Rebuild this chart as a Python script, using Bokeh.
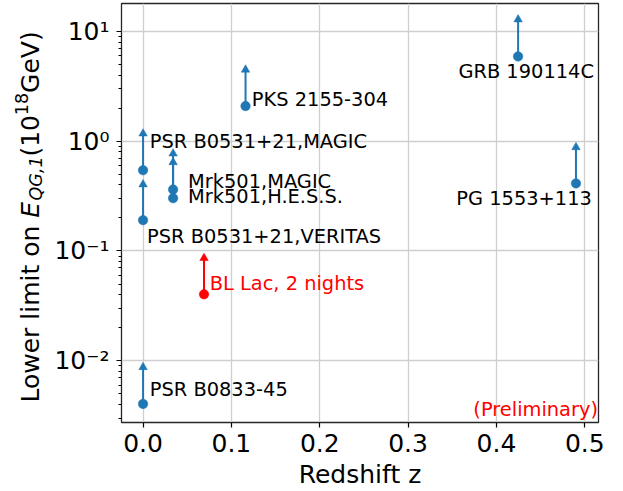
import math
from bokeh.plotting import figure
from bokeh.layouts import row
from bokeh.models import (ColumnDataSource, Range1d, FixedTicker, PrintfTickFormatter, Label)
from bokeh.core.properties import value
from bokeh.embed import file_html
from bokeh.resources import INLINE

# ---- data ----
names = ["PSR B0833-45", "PSR B0531+21,MAGIC", "PSR B0531+21,VERITAS",
         "Mrk501,MAGIC", "Mrk501,H.E.S.S.", "PKS 2155-304",
         "GRB 190114C", "PG 1553+113"]
redshift = [0.0, 0.0, 0.0, 0.034, 0.034, 0.116, 0.4245, 0.49]
lower_limit = [0.00404, 0.545, 0.191, 0.363, 0.303, 2.095, 5.93, 0.413]
arrow_tip = [0.00873, 1.175, 0.404, 0.773, 0.644, 4.49, 12.9, 0.882]

bllac_name = ["BL Lac, 2 nights"]
bllac_z = [0.069]
bllac_limit = [0.0403]
bllac_tip = [0.0862]

x_ticks = [0.0, 0.1, 0.2, 0.3, 0.4, 0.5]
y_ticks = [0.01, 0.1, 1.0, 10.0]
y_tick_labels = ["10\u207b\u00b2", "10\u207b\u00b9", "10\u2070", "10\u00b9"]
y_minor = [m * 10.0 ** e for e in (-3, -2, -1, 0, 1) for m in range(2, 10)]

# ---- label placement (screen offsets from each point, px; +dy = down) ----
BASE_FIX = -7
lab_dx = [6.7, 6.7, 4.0, 15.0, 15.0, 6.3, -59.7, -119.6]
lab_dy = [d + BASE_FIX for d in [-7.3, -21.7, 23.3, -1.0, 5.3, 0.3, 22.3, 22.4]]
bl_dx = [5.7]
bl_dy = [d + BASE_FIX for d in [-3.3]]

BLUE = "#1f77b4"
RED = "#ff0000"
FONT = "DejaVu Sans"
H = 491
LEFT_W = 48
TOP, BOTTOM = 3, 68

p = figure(width=567, height=H, output_backend="svg", toolbar_location=None,
           y_axis_type="log",
           x_range=Range1d(-0.0244, 0.5155), y_range=Range1d(0.002734, 18.02),
           min_border_left=121 - LEFT_W, min_border_right=17, min_border_top=TOP,
           min_border_bottom=BOTTOM)

src = ColumnDataSource(dict(x=redshift, y=lower_limit, tip=arrow_tip, name=names,
                            dx=lab_dx, dy=lab_dy))
bsrc = ColumnDataSource(dict(x=bllac_z, y=bllac_limit, tip=bllac_tip, name=bllac_name,
                             dx=bl_dx, dy=bl_dy))

for s, col, tcol in ((src, BLUE, "black"), (bsrc, RED, RED)):
    p.segment(x0="x", y0="y", x1="x", y1="tip", source=s, line_color=col, line_width=2)
    p.scatter(x="x", y="tip", source=s, marker="triangle", size=8.5,
              fill_color=col, line_color=col, line_width=0.5)
    p.scatter(x="x", y="y", source=s, marker="circle", size=9.5,
              fill_color=col, line_color=col, line_width=0.5)
    p.text(x="x", y="y", text="name", source=s, x_offset="dx", y_offset="dy",
           text_font=value(FONT), text_font_size="19.4px", text_color=tcol,
           text_align="left", text_baseline="alphabetic")

p.add_layout(Label(x=476.5, y=6.3 - BASE_FIX, x_units="screen", y_units="screen",
                   text="(Preliminary)", text_font=FONT, text_font_size="19.4px",
                   text_color=RED, text_align="right", text_baseline="alphabetic"))

# ---- axes ----
p.xaxis.ticker = FixedTicker(ticks=x_ticks, minor_ticks=[])
p.xaxis.formatter = PrintfTickFormatter(format="%.1f")
p.yaxis.ticker = FixedTicker(ticks=y_ticks, minor_ticks=y_minor)
p.yaxis.major_label_overrides = {t: s for t, s in zip(y_ticks, y_tick_labels)}
for ax in (p.xaxis, p.yaxis):
    ax.major_label_text_font = FONT
    ax.major_label_text_font_size = "25px"
    ax.major_label_text_color = "black"
    ax.axis_line_color = None
    ax.major_tick_line_color = "black"
    ax.minor_tick_line_color = "black"
    ax.major_tick_out = 5
    ax.major_tick_in = 0
    ax.minor_tick_out = 3
    ax.minor_tick_in = 0
    ax.major_tick_line_width = 1.2
    ax.minor_tick_line_width = 1
    ax.axis_label_text_font = FONT
    ax.axis_label_text_font_style = "normal"
    ax.axis_label_text_font_size = "25px"
    ax.axis_label_text_color = "black"
p.xaxis.axis_label = "Redshift z"
p.xaxis.major_label_standoff = 6
p.xaxis.axis_label_standoff = 5
p.yaxis.major_label_standoff = 7

p.outline_line_color = "#262626"
p.outline_line_width = 1.3
p.xgrid.grid_line_color = "#cfcfcf"
p.ygrid.grid_line_color = "#cfcfcf"
p.xgrid.grid_line_width = 1.3
p.ygrid.grid_line_width = 1.3

# ---- y-axis title: a narrow figure holding the rotated label pieces ----
# its frame is aligned with the main frame (page y 3..423); data y = 491 - page y
ly = figure(width=LEFT_W, height=H, output_backend="svg", toolbar_location=None,
            x_range=Range1d(0, LEFT_W), y_range=Range1d(BOTTOM, H - TOP),
            x_axis_location=None, y_axis_location=None, min_border=0,
            outline_line_color=None)
ly.grid.visible = False
# (text, baseline x, start y from bottom, font size, style)
ylab = [
    ("Lower limit on", 37, 88, "25px", "normal"),
    ("E", 37, 273.3, "25px", "italic"),
    ("QG,1", 42, 290.6, "17.5px", "italic"),
    ("(10", 37, 334.6, "25px", "normal"),
    ("18", 28, 376.1, "17.5px", "normal"),
    ("GeV)", 37, 398.4, "25px", "normal"),
]
for txt, lx, lyy, fs, st in ylab:
    ly.text(x=[lx + BASE_FIX], y=[lyy], text=[txt], angle=math.pi / 2,
            text_font=value(FONT), text_font_size=fs, text_font_style=st,
            text_color="black", text_align="left", text_baseline="alphabetic")

open("out.html", "w").write(file_html(row(ly, p), INLINE))
